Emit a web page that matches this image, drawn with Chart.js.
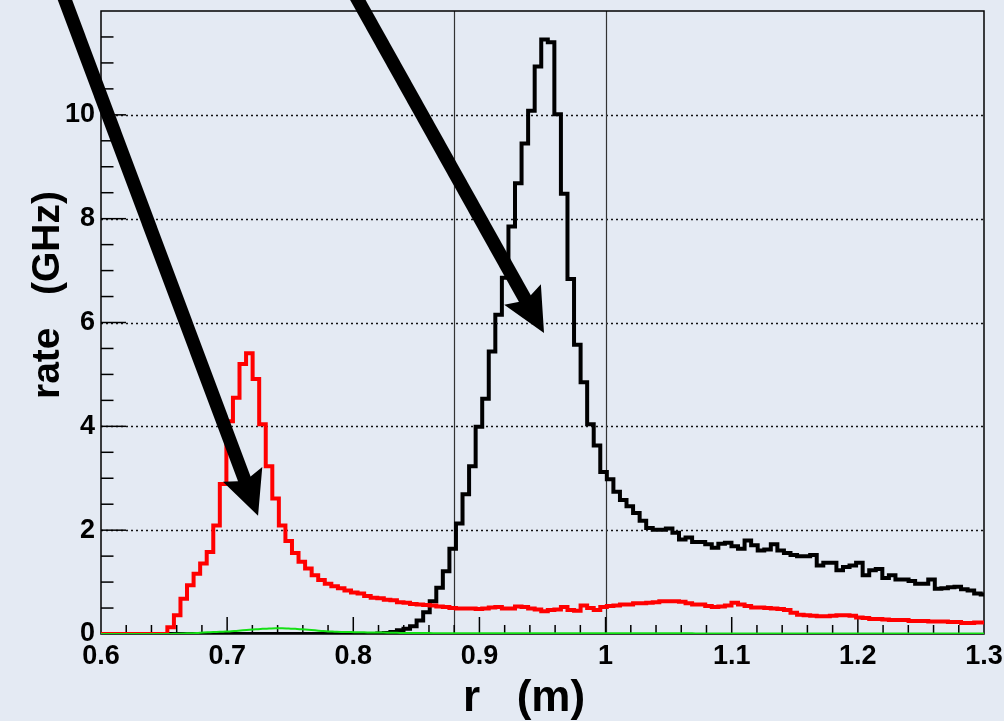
<!DOCTYPE html>
<html>
<head>
<meta charset="utf-8">
<script src="https://cdn.jsdelivr.net/npm/chart.js@4.4.1/dist/chart.umd.min.js"></script>
<style>
  html, body { margin: 0; padding: 0; background: #e4eaf3; }
  canvas { display: block; }
</style>
</head>
<body>
<canvas id="rateChart" width="1004" height="721"></canvas>
<script>
// histogram binning (r in m)
var binStart = 0.6006
var binWidth = 0.0052
var xMin = 0.6
var xMax = 1.3

// rate per bin (GHz)
var redRate = [
  0, 0, 0, 0, 0, 0, 0, 0, 0, 0,
  0.13, 0.36, 0.68, 0.94, 1.16, 1.36, 1.58, 2.09, 2.89, 4.1,
  4.55, 5.2, 5.41, 4.91, 4.04, 3.23, 2.61, 2.09, 1.79, 1.56,
  1.39, 1.26, 1.13, 1.04, 0.97, 0.92, 0.88, 0.84, 0.80, 0.78,
  0.73, 0.70, 0.69, 0.66, 0.65, 0.61, 0.60, 0.58, 0.57, 0.56,
  0.55, 0.53, 0.52, 0.50, 0.49, 0.49, 0.49, 0.48, 0.49, 0.51,
  0.52, 0.49, 0.49, 0.53, 0.52, 0.49, 0.47, 0.44, 0.46, 0.47,
  0.52, 0.46, 0.45, 0.55, 0.50, 0.46, 0.52, 0.54, 0.55, 0.57,
  0.57, 0.59, 0.59, 0.60, 0.61, 0.63, 0.63, 0.63, 0.62, 0.59,
  0.57, 0.57, 0.54, 0.52, 0.53, 0.55, 0.60, 0.57, 0.54, 0.51,
  0.51, 0.50, 0.49, 0.48, 0.46, 0.41, 0.37, 0.36, 0.35, 0.34,
  0.34, 0.35, 0.36, 0.36, 0.35, 0.32, 0.31, 0.29, 0.29, 0.28,
  0.27, 0.27, 0.27, 0.25, 0.25, 0.25, 0.24, 0.24, 0.24, 0.23,
  0.23, 0.21, 0.21, 0.22, 0.22
]
var blackRate = [
  0, 0, 0, 0, 0, 0, 0, 0, 0, 0,
  0, 0, 0, 0, 0, 0, 0, 0, 0, 0,
  0, 0, 0, 0, 0, 0, 0, 0, 0, 0,
  0, 0, 0, 0, 0, 0, 0, 0, 0, 0,
  0, 0, 0.01, 0.02, 0.04, 0.07, 0.10, 0.15, 0.26, 0.42,
  0.63, 0.89, 1.21, 1.64, 2.13, 2.69, 3.23, 3.99, 4.53, 5.44,
  6.15, 6.86, 7.85, 8.68, 9.45, 10.08, 10.93, 11.45, 11.40, 10.01,
  8.48, 6.84, 5.57, 4.85, 4.04, 3.63, 3.12, 2.98, 2.74, 2.58,
  2.46, 2.33, 2.18, 2.04, 2.01, 2.01, 2.03, 1.95, 1.82, 1.86,
  1.77, 1.77, 1.73, 1.66, 1.74, 1.76, 1.69, 1.64, 1.80, 1.71,
  1.61, 1.63, 1.73, 1.61, 1.56, 1.52, 1.50, 1.50, 1.52, 1.32,
  1.37, 1.37, 1.23, 1.29, 1.32, 1.37, 1.13, 1.23, 1.25, 1.08,
  1.13, 1.05, 1.05, 1.02, 0.97, 0.97, 1.05, 0.87, 0.88, 0.90,
  0.91, 0.86, 0.84, 0.78, 0.76
]
var greenRate = [
  0, 0, 0, 0, 0, 0, 0, 0, 0, 0,
  0, 0.005, 0.01, 0.015, 0.02, 0.03, 0.035, 0.04, 0.045, 0.05,
  0.06, 0.07, 0.08, 0.09, 0.10, 0.105, 0.11, 0.11, 0.105, 0.10,
  0.09, 0.08, 0.07, 0.06, 0.05, 0.045, 0.04, 0.04, 0.035, 0.035,
  0.03, 0.03, 0.03, 0.025, 0.025, 0.02, 0.02, 0.02, 0.02, 0.02,
  0.015, 0.015, 0.015, 0.015, 0.015, 0.015, 0.015, 0.015, 0.015, 0.015,
  0.015, 0.015, 0.015, 0.015, 0.015, 0.015, 0.015, 0.015, 0.015, 0.015,
  0.015, 0.015, 0.015, 0.015, 0.015, 0.015, 0.015, 0.015, 0.015, 0.015,
  0.015, 0.015, 0.015, 0.015, 0.015, 0.015, 0.015, 0.015, 0.015, 0.015,
  0.01, 0.01, 0.01, 0.01, 0.01, 0.01, 0.01, 0.01, 0.01, 0.01,
  0.01, 0.01, 0.01, 0.01, 0.01, 0.01, 0.01, 0.01, 0.01, 0.01,
  0.01, 0.01, 0.01, 0.01, 0.01, 0.01, 0.01, 0.01, 0.01, 0.01,
  0.01, 0.01, 0.01, 0.01, 0.01, 0.01, 0.01, 0.01, 0.01, 0.01,
  0.01, 0.01, 0.01, 0.01, 0.01
]

// axis ticks
var xTicks = [0.6, 0.7, 0.8, 0.9, 1.0, 1.1, 1.2, 1.3]
var yTicks = [0, 2, 4, 6, 8, 10]
var markerR = [0.88, 1.0]

// arrows: [r start, rate start, r tip, rate tip]
var arrows = [
  [0.567, 12.5, 0.7245, 2.28],
  [0.797, 12.5, 0.9512, 5.80]
]

//step points at the bin edges, last value held to the right edge
function histPoints(vals) {
  var pts = vals.map(function (v, i) { return { x: binStart + i * binWidth, y: v } })
  pts.unshift({ x: xMin, y: vals[0] })
  pts.push({ x: xMax, y: vals[vals.length - 1] })
  return pts
}
function curvePoints(vals) {
  var pts = vals.map(function (v, i) { return { x: Math.min(binStart + (i + 0.5) * binWidth, xMax), y: v } })
  pts.unshift({ x: xMin, y: vals[0] })
  return pts
}

function drawArrow(ctx, x0, y0, x1, y1) {
  var ang = Math.atan2(y1 - y0, x1 - x0)
  var c = Math.cos(ang), s = Math.sin(ang)
  var headLen = 44, headHalf = 21, notch = 7
  var bx = x1 - headLen * c, by = y1 - headLen * s
  ctx.lineWidth = 13.5
  ctx.lineCap = 'butt'
  ctx.beginPath()
  ctx.moveTo(x0, y0)
  ctx.lineTo(bx + notch * 1.5 * c, by + notch * 1.5 * s)
  ctx.stroke()
  ctx.beginPath()
  ctx.moveTo(x1, y1)
  ctx.lineTo(bx - headHalf * s, by + headHalf * c)
  ctx.lineTo(bx + notch * c, by + notch * s)
  ctx.lineTo(bx + headHalf * s, by - headHalf * c)
  ctx.closePath()
  ctx.fill()
}

//no extra room for tick labels, the plot box is fixed
function fixBox(s) {
  s.paddingTop = 0
  s.paddingBottom = 0
  s.paddingLeft = 0
  s.paddingRight = 0
}

var frame = {
  id: 'frame',
  beforeDatasetsDraw: function (chart) {
    var ctx = chart.ctx, a = chart.chartArea, x = chart.scales.x, y = chart.scales.y
    ctx.save()
    ctx.strokeStyle = '#111'
    ctx.lineWidth = 1.3
    ctx.setLineDash([2, 3])
    yTicks.forEach(function (v) {
      if (v === 0) return
      var py = Math.round(y.getPixelForValue(v)) + 0.5
      ctx.beginPath(); ctx.moveTo(a.left, py); ctx.lineTo(a.right, py); ctx.stroke()
    })
    ctx.setLineDash([])
    ctx.strokeStyle = '#333'
    ctx.lineWidth = 1.2
    markerR.forEach(function (v) {
      var px = Math.round(x.getPixelForValue(v)) + 0.5
      ctx.beginPath(); ctx.moveTo(px, a.top); ctx.lineTo(px, a.bottom); ctx.stroke()
    })
    // frame and inside ticks
    ctx.strokeStyle = '#000'
    ctx.lineWidth = 1.5
    ctx.strokeRect(a.left, a.top, a.right - a.left, a.bottom - a.top)
    for (var k = 1; k < 24; k++) {
      var py = y.getPixelForValue(k * 0.5)
      var len = (k % 4 === 0) ? 25 : 12.5
      ctx.beginPath(); ctx.moveTo(a.left, py); ctx.lineTo(a.left + len, py); ctx.stroke()
    }
    for (var j = 1; j < 35; j++) {
      var px = x.getPixelForValue(xMin + j * 0.02)
      var tl = (j % 5 === 0) ? 17 : 9
      ctx.beginPath(); ctx.moveTo(px, a.bottom); ctx.lineTo(px, a.bottom - tl); ctx.stroke()
    }
    ctx.restore()
  },
  afterDraw: function (chart) {
    var ctx = chart.ctx, x = chart.scales.x, y = chart.scales.y
    ctx.save()
    ctx.fillStyle = '#000'
    ctx.strokeStyle = '#000'
    arrows.forEach(function (ar) {
      drawArrow(ctx, x.getPixelForValue(ar[0]), y.getPixelForValue(ar[1]),
        x.getPixelForValue(ar[2]), y.getPixelForValue(ar[3]))
    })
    // axis titles
    ctx.textAlign = 'center'
    ctx.textBaseline = 'alphabetic'
    ctx.font = 'bold 44px "Liberation Sans", Arial, sans-serif'
    ctx.fillText('r   (m)', 524, 711)
    ctx.font = 'bold 39px "Liberation Sans", Arial, sans-serif'
    ctx.translate(59, 295)
    ctx.rotate(-Math.PI / 2)
    ctx.fillText('rate   (GHz)', 0, 0)
    ctx.restore()
  }
}

var tickFont = { family: '"Liberation Sans", Arial, sans-serif', weight: 'bold', size: 27 }
var ctx = document.getElementById('rateChart').getContext('2d')
var rateChart = new Chart(ctx, {
  type: 'line',
  data: {
    datasets: [
      { data: curvePoints(greenRate), borderColor: '#14e014', borderWidth: 2, pointRadius: 0, cubicInterpolationMode: 'monotone' },
      { data: histPoints(redRate), borderColor: '#ff0000', borderWidth: 4, pointRadius: 0, stepped: 'before' },
      { data: histPoints(blackRate), borderColor: '#000000', borderWidth: 4, pointRadius: 0, stepped: 'before' }
    ]
  },
  options: {
    responsive: false,
    animation: false,
    layout: { padding: { top: 11, right: 20, left: 0, bottom: 0 } },
    plugins: { legend: { display: false }, tooltip: { enabled: false } },
    scales: {
      x: {
        type: 'linear', min: xMin, max: xMax,
        afterFit: function (s) { s.height = 87; fixBox(s) },
        afterBuildTicks: function (s) { s.ticks = xTicks.map(function (v) { return { value: v } }) },
        grid: { display: false, drawTicks: false },
        border: { display: false },
        ticks: { autoSkip: false, maxRotation: 0, padding: 6, color: '#000', font: tickFont,
          callback: function (v) { return String(+(+v).toFixed(2)) } }
      },
      y: {
        type: 'linear', min: 0, max: 12,
        afterFit: function (s) { s.width = 101; fixBox(s) },
        afterBuildTicks: function (s) { s.ticks = yTicks.map(function (v) { return { value: v } }) },
        grid: { display: false, drawTicks: false },
        border: { display: false },
        ticks: { padding: 6, color: '#000', font: tickFont }
      }
    }
  },
  plugins: [frame]
})
</script>
</body>
</html>
